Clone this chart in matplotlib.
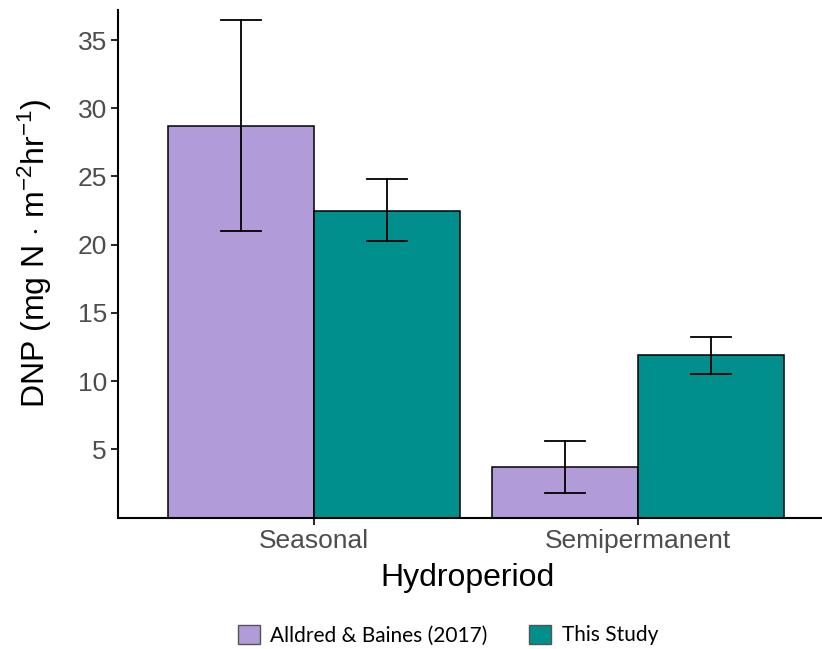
import matplotlib
matplotlib.use("Agg")
import matplotlib.pyplot as plt
import numpy as np
from matplotlib.patches import Patch

categories = ["Seasonal", "Semipermanent"]
series_names = ["Alldred & Baines (2017)", "This Study"]
alldred_mean = [28.7, 3.7]
alldred_lo = [21.0, 1.8]
alldred_hi = [36.5, 5.6]
study_mean = [22.5, 11.9]
study_lo = [20.3, 10.5]
study_hi = [24.8, 13.2]
yticks = [5, 10, 15, 20, 25, 30, 35]

colors = ["#B19CD9", "#008F8C"]

plt.rcParams["font.family"] = ["Liberation Sans", "DejaVu Sans"]
plt.rcParams["mathtext.fontset"] = "custom"
plt.rcParams["mathtext.rm"] = "Liberation Sans"
plt.rcParams["mathtext.it"] = "Liberation Sans:italic"

W, H = 822, 649
fig = plt.figure(figsize=(W / 100, H / 100), dpi=100)
ax = fig.add_axes([118 / W, (H - 517.5) / H, (W - 118) / W, (517.5 - 10) / H])

x = np.arange(1, len(categories) + 1)
bw = 0.45
cap = 0.062
for i, (m, lo, hi) in enumerate([(alldred_mean, alldred_lo, alldred_hi),
                                 (study_mean, study_lo, study_hi)]):
    xs = x + (i - 0.5) * bw
    ax.bar(xs, m, width=bw, color=colors[i], edgecolor="black", linewidth=1.1, zorder=2)
    for xx, l, h in zip(xs, lo, hi):
        ax.plot([xx, xx], [l, h], color="black", lw=1.3, zorder=3)
        ax.plot([xx - cap, xx + cap], [l, l], color="black", lw=1.3, zorder=3)
        ax.plot([xx - cap, xx + cap], [h, h], color="black", lw=1.3, zorder=3)

ax.set_xlim(1 - (314 - 118) / 324, 2 + (W - 638) / 324)
ax.set_ylim(0, 37.2)
ax.set_xticks(x)
ax.set_xticklabels(categories)
ax.set_yticks(yticks)
for s in ["top", "right"]:
    ax.spines[s].set_visible(False)
for s in ["left", "bottom"]:
    ax.spines[s].set_linewidth(1.5)
ax.tick_params(axis="both", length=5, width=1.2, colors="black", labelcolor="#4D4D4D",
               labelsize=19, pad=3)
ax.set_ylabel(r"DNP (mg N $\cdot$ m$^{\mathregular{-2}}$hr$^{\mathregular{-1}}$)", fontsize=23,
              color="black")
ax.yaxis.set_label_coords(-0.118, 0.52)
ax.yaxis.label.set_va("center")
ax.set_xlabel("Hydroperiod", fontsize=23, color="black")
ax.xaxis.set_label_coords(0.497, (517.5 - 578) / 507.5)
ax.xaxis.label.set_va("center")

handles = [Patch(facecolor=colors[i], edgecolor="#555555", linewidth=1.0, label=series_names[i])
           for i in range(2)]
fig.legend(handles=handles, loc="center", bbox_to_anchor=(448 / W, (H - 635) / H), ncol=2,
           frameon=False, prop={"family": "Lato", "size": 15}, handlelength=1.05,
           handleheight=1.05, handletextpad=0.5, columnspacing=2.0)

fig.savefig("out.png", dpi=100)
